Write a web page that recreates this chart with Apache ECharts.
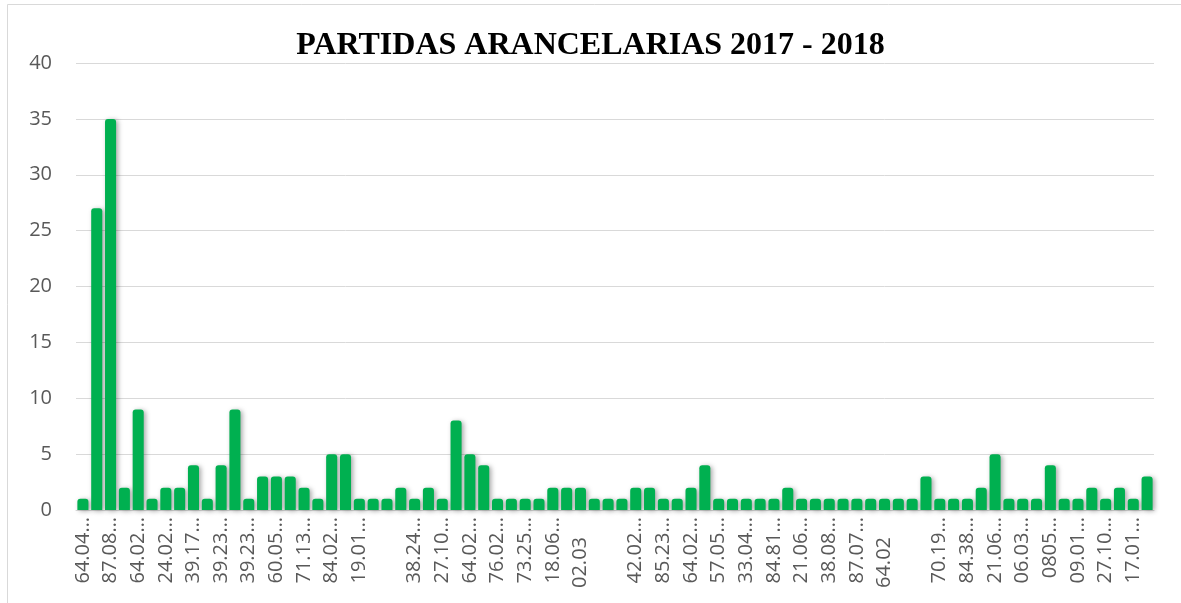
<!DOCTYPE html>
<html>
<head>
<meta charset="utf-8">
<script src="https://cdn.jsdelivr.net/npm/echarts@6/dist/echarts.min.js"></script>
<style>
html,body{margin:0;padding:0;background:#fff;}
#chart{width:1181px;height:603px;}
</style>
</head>
<body>
<div id="chart"></div>
<script>
var title = 'PARTIDAS ARANCELARIAS 2017 - 2018';
var categories = [
 '64.04…','', '87.08…','', '64.02…','', '24.02…','', '39.17…','',
 '39.23…','', '39.23…','', '60.05…','', '71.13…','', '84.02…','',
 '19.01…','', '','', '38.24…','', '27.10…','', '64.02…','',
 '76.02…','', '73.25…','', '18.06…','', '02.03\u2002\u2002','', '','',
 '42.02…','', '85.23…','', '64.02…','', '57.05…','', '33.04…','',
 '84.81…','', '21.06…','', '38.08…','', '87.07…','', '64.02\u2002\u2002','',
 '','', '70.19…','', '84.38…','', '21.06…','', '06.03…','',
 '0805…','', '09.01…','', '27.10…','', '17.01…',''
];
var values = [
 1,27,35,2,9,1,2,2,4,1,
 4,9,1,3,3,3,2,1,5,5,
 1,1,1,2,1,2,1,8,5,4,
 1,1,1,1,2,2,2,1,1,1,
 2,2,1,1,2,4,1,1,1,1,
 1,2,1,1,1,1,1,1,1,1,
 1,3,1,1,1,2,5,1,1,1,
 4,1,1,2,1,2,1,3
];
var yTicks = {min:0, max:40, interval:5};

var chart = echarts.init(document.getElementById('chart'));
chart.setOption({
  animation:false,
  backgroundColor:'#ffffff',
  title:{
    text:title, left:'center', top:25,
    textStyle:{fontFamily:'Liberation Serif', fontWeight:'bold', fontSize:32, color:'#000'}
  },
  graphic:[{
    type:'rect', shape:{x:7.5,y:4.5,width:1200,height:700},
    style:{fill:'none', stroke:'#d9d9d9', lineWidth:1}, silent:true
  }],
  grid:{left:76, right:27, top:63, bottom:93},
  xAxis:{
    type:'category', data:categories,
    axisLine:{lineStyle:{color:'#d9d9d9', width:1}},
    axisTick:{show:false},
    axisLabel:{interval:1, rotate:90, margin:7, color:'#595959',
      fontFamily:'Open Sans', fontSize:20}
  },
  yAxis:{
    type:'value', min:yTicks.min, max:yTicks.max, interval:yTicks.interval,
    axisLine:{show:false}, axisTick:{show:false},
    splitLine:{lineStyle:{color:'#d9d9d9', width:1}},
    axisLabel:{margin:24, color:'#595959', fontFamily:'Open Sans', fontSize:20}
  },
  series:[{
    type:'bar', data:values, barCategoryGap:'20%',
    itemStyle:{color:'#00b050', borderRadius:[3,3,0,0],
      shadowColor:'rgba(0,0,0,0.35)', shadowBlur:5, shadowOffsetX:2, shadowOffsetY:1}
  }]
});
</script>
</body>
</html>
